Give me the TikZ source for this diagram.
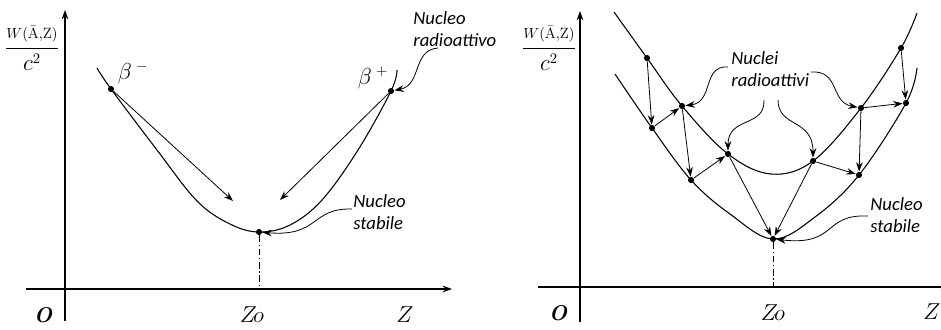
\documentclass[tikz,border=0pt]{standalone}
\usepackage{fontspec}
\newfontfamily\notefont{Carlito}
\usetikzlibrary{arrows.meta}

\begin{document}
\begin{tikzpicture}[x=0.75pt, y=-0.75pt, line width=0.6pt, >={Stealth[length=7pt,width=5pt]},
    dot/.style={circle, fill=lineColour, inner sep=0pt, minimum size=4.6pt},
    curve/.style={line width=0.8pt},
    axis/.style={line width=0.9pt},
    note/.style={font=\notefont\itshape\fontsize{14}{17}\selectfont, align=left, inner sep=0pt, anchor=west},
    axlabel/.style={font=\fontsize{16}{19}\selectfont, inner sep=0pt}]
    % Define colours
    \definecolor{lineColour}{HTML}{000000}

    % Fix the picture size
    \useasboundingbox (0,0) rectangle (941,329);

    % Define the axis end points
    \coordinate (leftXStart) at (26,289);
    \coordinate (leftXEnd) at (452,289);
    \coordinate (leftYStart) at (65,321);
    \coordinate (leftYEnd) at (65,10);
    \coordinate (rightXStart) at (538,287);
    \coordinate (rightXEnd) at (950,287);
    \coordinate (rightYStart) at (580,322);
    \coordinate (rightYEnd) at (580,11);

    % Draw axes
    \draw[axis,->] (leftXStart) -- (leftXEnd);
    \draw[axis,->] (leftYStart) -- (leftYEnd);
    \draw[axis,->] (rightXStart) -- (rightXEnd);
    \draw[axis,->] (rightYStart) -- (rightYEnd);

    % Label axes
    \node[axlabel] (leftO) at (43,315) {\bfseries\itshape O};
    \node[axlabel] (leftZo) at (252,315) {$Z\mkern-3mu o$};
    \node[axlabel] (leftZ) at (405,315) {$Z$};
    \node[axlabel] (leftW) at (32,48) {$\displaystyle\frac{\scriptstyle W(\bar{\mathrm{A}},\mathrm{Z})}{c^2}$};
    \node[axlabel] (rightO) at (558,313) {\bfseries\itshape O};
    \node[axlabel] (rightZo) at (773,313) {$Z\mkern-3mu o$};
    \node[axlabel] (rightZ) at (932,312) {$Z$};
    \node[axlabel] (rightW) at (549,48) {$\displaystyle\frac{\scriptstyle W(\bar{\mathrm{A}},\mathrm{Z})}{c^2}$};

    % Draw the left parabola
    \draw[curve] plot[smooth, tension=0.6] coordinates {(97,68) (111,89) (157,150) (197,201) (230,224) (259,232) (290,225) (322,200) (358,150) (391,91) (397,70)};

    % Draw the nuclei on the left parabola
    \node[dot] (betaMinus) at (111,89) {};
    \node[dot] (betaPlus) at (391,91) {};
    \node[dot] (leftStable) at (259,232) {};
    \node[axlabel] (betaMinusLabel) at (133,73) {$\beta^{\;-}$};
    \node[axlabel] (betaPlusLabel) at (373,78) {$\beta^{\;+}$};

    % Draw the decays towards the stable nucleus
    \coordinate (minusEnd) at (233,201);
    \coordinate (plusEnd) at (280,200);
    \draw[->] (betaMinus) -- (minusEnd);
    \draw[->] (betaPlus) -- (plusEnd);
    \coordinate (leftFoot) at (259,289);
    \draw[dash pattern=on 5pt off 2pt on 1pt off 2pt] (leftStable) -- (leftFoot);

    % Left notes
    \node[note] (leftRadio) at (413,29) {Nucleo\\radioattivo};
    \node[note] (leftStab) at (353,212) {Nucleo\\stabile};
    \coordinate (leftRadioStart) at (438,48);
    \coordinate (leftStabStart) at (352,209);
    \draw[->] (leftRadioStart) .. controls (412,50) and (422,85) .. (betaPlus);
    \draw[->] (leftStabStart) .. controls (310,208) and (320,237) .. (leftStable);

    % Draw the two right parabolas
    \draw[curve] plot[smooth, tension=0.6] coordinates {(614,12) (647,58) (682,106) (728,154) (771,174) (813,161) (861,108) (901,48) (917,13)};
    \draw[curve] plot[smooth, tension=0.6] coordinates {(615,74) (652,128) (691,180) (730,214) (773,239) (815,217) (859,175) (906,103) (917,68)};

    % Draw the nuclei on the right parabolas
    \node[dot] (u1) at (647,58) {};
    \node[dot] (u2) at (682,106) {};
    \node[dot] (u3) at (728,154) {};
    \node[dot] (u4) at (813,161) {};
    \node[dot] (u5) at (861,108) {};
    \node[dot] (u6) at (901,48) {};
    \node[dot] (l1) at (652,128) {};
    \node[dot] (l2) at (691,180) {};
    \node[dot] (l3) at (773,239) {};
    \node[dot] (l4) at (859,175) {};
    \node[dot] (l5) at (906,103) {};

    % Draw the decay chain
    \foreach \a/\b in {u1/l1, l1/u2, u2/l2, l2/u3, u3/l3, u4/l3, u4/l4, u5/l4, u5/l5, u6/l5}
        \draw[->] (\a) -- (\b);
    \coordinate (rightFoot) at (773,287);
    \draw[dash pattern=on 5pt off 2pt on 1pt off 2pt] (l3) -- (rightFoot);

    % Right notes
    \node[note] (rightRadio) at (731,69) {Nuclei\\radioattivi};
    \node[note] (rightStab) at (870,215) {Nucleo\\stabile};
    \coordinate (radioStartA) at (728,67);
    \coordinate (radioStartB) at (811,72);
    \coordinate (radioStartC) at (764,100);
    \coordinate (radioStartD) at (778,100);
    \coordinate (rightStabStart) at (868,216);
    \draw[->] (radioStartA) .. controls (702,65) and (714,102) .. (u2);
    \draw[->] (radioStartB) .. controls (840,70) and (830,102) .. (u5);
    \draw[->] (radioStartC) .. controls (765,128) and (728,116) .. (u3);
    \draw[->] (radioStartD) .. controls (778,128) and (813,118) .. (u4);
    \draw[->] (rightStabStart) .. controls (822,214) and (838,246) .. (l3);

\end{tikzpicture}
\end{document}
